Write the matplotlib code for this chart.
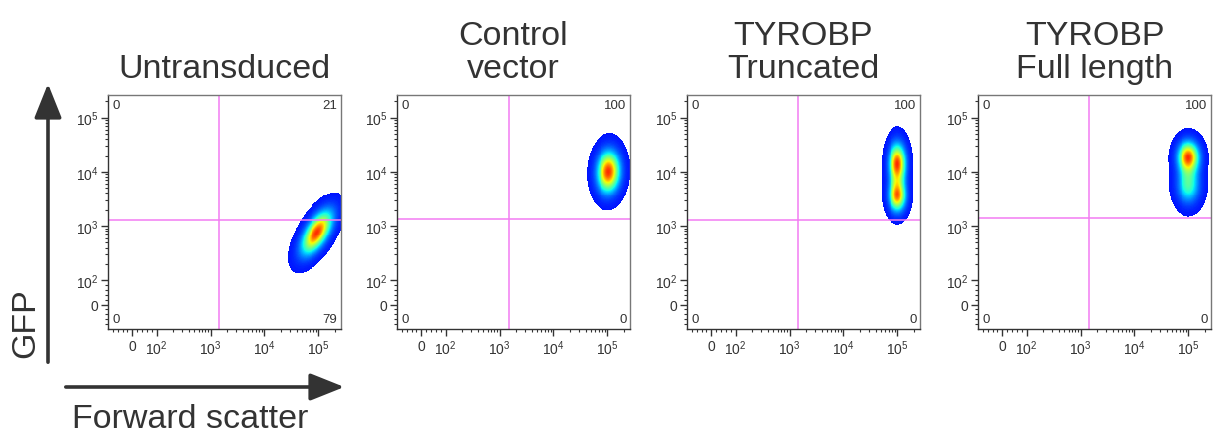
"""Flow cytometry panels: GFP vs forward scatter for four transductions."""

import numpy as np
import matplotlib
matplotlib.use("Agg")
import matplotlib.pyplot as plt
from matplotlib.colors import LinearSegmentedColormap
from matplotlib.patches import FancyArrowPatch

plt.rcParams["font.family"] = ["Liberation Sans", "DejaVu Sans"]
plt.rcParams["mathtext.fontset"] = "custom"
plt.rcParams["mathtext.rm"] = "Liberation Sans"
plt.rcParams["mathtext.it"] = "Liberation Sans"

# ---- data ----
TITLES = ["Untransduced", "Control\nvector", "TYROBP\nTruncated", "TYROBP\nFull length"]
# quadrant percentages: top-left, top-right, bottom-left, bottom-right
QUAD_TL = ["0", "0", "0", "0"]
QUAD_TR = ["21", "100", "100", "100"]
QUAD_BL = ["0", "0", "0", "0"]
QUAD_BR = ["79", "0", "0", "0"]
GATE_X = [1450, 1500, 1450, 1450]
GATE_Y = [1300, 1350, 1300, 1380]
# population components per panel: (log10 FSC, log10 GFP, sd x, sd y, rho, weight)
POPS = [
    [(4.97, 2.88, 0.20, 0.28, 0.62, 1.0)],
    [(5.02, 4.00, 0.15, 0.27, 0.05, 1.0)],
    [(5.00, 4.15, 0.11, 0.26, 0.0, 0.9), (5.00, 3.55, 0.11, 0.20, 0.0, 0.8)],
    [(5.00, 4.28, 0.14, 0.20, 0.0, 1.0), (5.00, 3.75, 0.15, 0.24, 0.0, 0.55)],
]
MAJOR_TICKS = [0, 1e2, 1e3, 1e4, 1e5]
MAJOR_LABELS = ["0", "$10^2$", "$10^3$", "$10^4$", "$10^5$"]
AX_MIN, AX_MAX = -100, 262144

LEFTS_PX = [108, 397, 687, 978]
W, H = 1215, 439
TEXT = "#333333"
GATE = "#f27cf2"

jet = plt.get_cmap("jet")
cmap = LinearSegmentedColormap.from_list("flow", jet(np.linspace(0.14, 0.86, 256)))

minor = ([-v for v in range(20, 100, 20)] + list(range(20, 100, 20))
         + [m * 10 ** e for e in (2, 3, 4) for m in range(2, 10)] + [2e5])

fig = plt.figure(figsize=(W / 100, H / 100), dpi=100)

gx = np.arange(3.9, 5.45, 0.018)
gy = np.arange(1.8, 5.45, 0.018)
GX, GY = np.meshgrid(gx[:-1] + 0.009, gy[:-1] + 0.009)

for i in range(4):
    ax = fig.add_axes([LEFTS_PX[i] / W, (H - 330) / H, 233 / W, 234 / H])
    for a in ("x", "y"):
        getattr(ax, f"set_{a}scale")("symlog", linthresh=100, linscale=0.405)
    ax.set_xlim(AX_MIN, AX_MAX)
    ax.set_ylim(AX_MIN, AX_MAX)

    z = np.zeros_like(GX)
    for cx, cy, sx, sy, rho, w in POPS[i]:
        u = (GX - cx) / sx
        v = (GY - cy) / sy
        z += w * np.exp(-(u * u - 2 * rho * u * v + v * v) / (2 * (1 - rho * rho)))
    z = z / z.max()
    z = np.ma.masked_less(z, 0.03)
    ax.pcolormesh(10 ** gx, 10 ** gy, z ** 1.4, cmap=cmap, vmin=0.0, vmax=1.0,
                  shading="flat", rasterized=True, zorder=1)

    ax.axvline(GATE_X[i], color=GATE, lw=1.1, zorder=2)
    ax.axhline(GATE_Y[i], color=GATE, lw=1.1, zorder=2)

    ax.set_xticks(MAJOR_TICKS)
    ax.set_xticklabels(MAJOR_LABELS)
    ax.set_yticks(MAJOR_TICKS)
    ax.set_yticklabels(MAJOR_LABELS)
    ax.set_xticks(minor, minor=True)
    ax.set_yticks(minor, minor=True)
    ax.tick_params(which="major", length=5, width=1, color="#333", labelsize=10,
                   labelcolor=TEXT, pad=2)
    ax.tick_params(which="minor", length=2.5, width=0.8, color="#333")
    for s in ax.spines.values():
        s.set_color("#777777")
        s.set_linewidth(1)
    for s in ("left", "bottom"):
        ax.spines[s].set_color("#333333")

    kw = dict(transform=ax.transAxes, fontsize=9.5, color=TEXT)
    ax.text(0.02, 0.985, QUAD_TL[i], ha="left", va="top", **kw)
    ax.text(0.985, 0.985, QUAD_TR[i], ha="right", va="top", **kw)
    ax.text(0.02, 0.015, QUAD_BL[i], ha="left", va="bottom", **kw)
    ax.text(0.985, 0.015, QUAD_BR[i], ha="right", va="bottom", **kw)

    ax.text(0.5, 1.045, TITLES[i], transform=ax.transAxes, ha="center", va="bottom",
            fontsize=24.5, color=TEXT, linespacing=1.12)


def fpx(x, y):
    return (x / W, 1 - y / H)


arrow_kw = dict(transform=fig.transFigure, arrowstyle="-|>,head_length=1.5,head_width=0.6",
                mutation_scale=14, lw=2.6, color="#333333")
fig.add_artist(FancyArrowPatch(fpx(48, 366), fpx(48, 82), **arrow_kw))
fig.add_artist(FancyArrowPatch(fpx(63, 388), fpx(347, 388), **arrow_kw))

fig.text(*fpx(26, 323), "GFP", rotation=90, ha="center", va="center", fontsize=24.5, color=TEXT)
fig.text(*fpx(190, 420), "Forward scatter", ha="center", va="center", fontsize=24.5, color=TEXT)

fig.savefig("out.png", dpi=100)
